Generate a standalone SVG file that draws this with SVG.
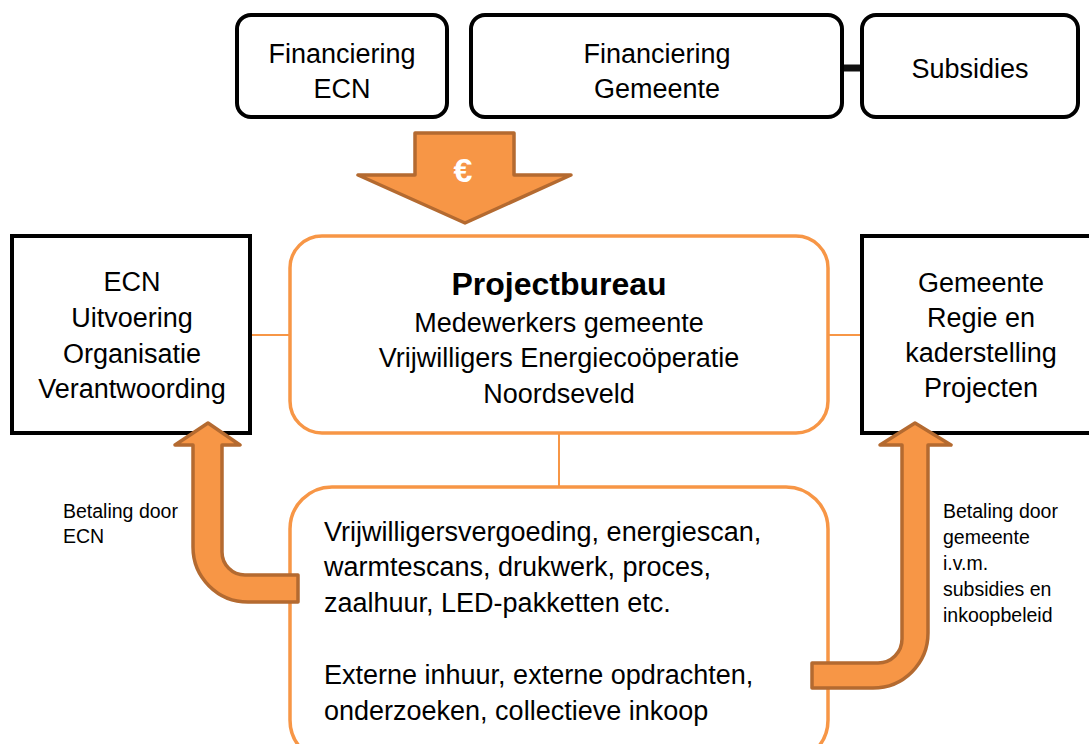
<svg xmlns="http://www.w3.org/2000/svg" width="1089" height="744" viewBox="0 0 1089 744">
<style>
.t{font-family:"Liberation Sans",Arial,sans-serif;font-size:27px;fill:#000}
.c{text-anchor:middle}
.h{font-size:32px;font-weight:bold}
.s{font-family:"Liberation Sans",Arial,sans-serif;font-size:19.5px;fill:#000}
.bk{fill:#fff;stroke:#000;stroke-width:4}
.or{fill:#fff;stroke:#F79646;stroke-width:3.5}
.ar{fill:#F79646;stroke:#B46A30;stroke-width:3.5;stroke-linejoin:round}
.ln{stroke:#F79646;stroke-width:2;fill:none}
</style>
<rect width="1089" height="744" fill="#fff"/>
<g id="connectors">
<line x1="842" y1="68" x2="862" y2="68" stroke="#111" stroke-width="7"/>
<line class="ln" x1="250" y1="335" x2="290" y2="335"/>
<line class="ln" x1="828" y1="335" x2="862" y2="335"/>
<line class="ln" x1="559" y1="433" x2="559" y2="487"/>
</g>
<g id="fin-ecn">
<rect class="bk" x="237" y="15" width="210" height="102" rx="14"/>
<text class="t c" x="342" y="63">Financiering</text>
<text class="t c" x="342" y="98">ECN</text>
</g>
<g id="fin-gemeente">
<rect class="bk" x="471" y="15" width="371" height="102" rx="14"/>
<text class="t c" x="657" y="63">Financiering</text>
<text class="t c" x="657" y="98">Gemeente</text>
</g>
<g id="subsidies">
<rect class="bk" x="862" y="15" width="216" height="102" rx="14"/>
<text class="t c" x="970" y="78">Subsidies</text>
</g>
<g id="euro-arrow">
<polygon class="ar" points="415,133 514,133 514,175 571,175 465,223 358,175 415,175"/>
<text x="463" y="182" text-anchor="middle" font-family="Liberation Sans,Arial,sans-serif" font-weight="bold" font-size="34" fill="#fff">€</text>
</g>
<g id="projectbureau">
<rect class="or" x="290" y="236" width="538" height="197" rx="32"/>
<text class="t c h" x="559" y="295">Projectbureau</text>
<text class="t c" x="559" y="332">Medewerkers gemeente</text>
<text class="t c" x="559" y="367">Vrijwilligers Energiecoöperatie</text>
<text class="t c" x="559" y="403">Noordseveld</text>
</g>
<g id="kosten">
<rect class="or" x="290" y="487" width="538" height="275" rx="42"/>
<text class="t" x="324" y="541">Vrijwilligersvergoeding, energiescan,</text>
<text class="t" x="324" y="576">warmtescans, drukwerk, proces,</text>
<text class="t" x="324" y="612">zaalhuur, LED-pakketten etc.</text>
<text class="t" x="324" y="684">Externe inhuur, externe opdrachten,</text>
<text class="t" x="324" y="720">onderzoeken, collectieve inkoop</text>
</g>
<g id="ecn">
<rect class="bk" x="12" y="236" width="238" height="197"/>
<text class="t c" x="132" y="291">ECN</text>
<text class="t c" x="132" y="327">Uitvoering</text>
<text class="t c" x="132" y="363">Organisatie</text>
<text class="t c" x="132" y="398">Verantwoording</text>
</g>
<g id="gemeente">
<rect class="bk" x="862" y="236" width="240" height="197"/>
<text class="t c" x="981" y="292">Gemeente</text>
<text class="t c" x="981" y="327">Regie en</text>
<text class="t c" x="981" y="362">kaderstelling</text>
<text class="t c" x="981" y="397">Projecten</text>
</g>
<g id="arrow-ecn">
<path class="ar" d="M208,423 L240,445 L222,445 L222,552 A23,23 0 0 0 245,575 L298,575 L298,602 L248,602 A55,55 0 0 1 193,547 L193,445 L175,445 Z"/>
</g>
<g id="arrow-gemeente">
<path class="ar" d="M915,423 L951,445 L928,445 L928,633 A55,55 0 0 1 873,688 L812,688 L812,663 L878,663 A24,24 0 0 0 902,639 L902,445 L880,445 Z"/>
</g>
<g id="label-ecn">
<text class="s" x="63" y="518">Betaling door</text>
<text class="s" x="63" y="543">ECN</text>
</g>
<g id="label-gemeente">
<text class="s" x="943" y="518">Betaling door</text>
<text class="s" x="943" y="544">gemeente</text>
<text class="s" x="943" y="570">i.v.m.</text>
<text class="s" x="943" y="596">subsidies en</text>
<text class="s" x="943" y="622">inkoopbeleid</text>
</g>
</svg>
